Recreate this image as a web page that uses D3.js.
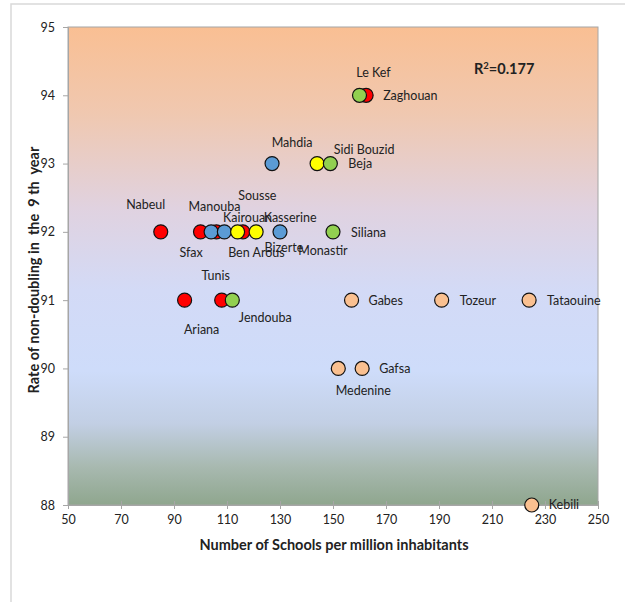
<!DOCTYPE html>
<html>
<head>
<meta charset="utf-8">
<script src="https://cdn.jsdelivr.net/npm/d3@7"></script>
<style>
  html, body { margin: 0; padding: 0; background: #ffffff; }
  svg { display: block; }
  text { font-family: Lato, "Open Sans", sans-serif; fill: #222; }
</style>
</head>
<body>
<div id="chart"></div>
<script>
// Governorates: schools per million inhabitants vs. rate of non-doubling in the 9th year
const governorates = [
  "Nabeul", "Manouba", "Ben Arous", "Bizerte", "Tunis", "Ariana", "Zaghouan",
  "Sfax", "Sousse", "Monastir", "Mahdia",
  "Kairouan", "Kasserine", "Sidi Bouzid",
  "Siliana", "Beja", "Le Kef", "Jendouba",
  "Gabes", "Tozeur", "Tataouine", "Gafsa", "Medenine", "Kebili"
];
const schools = [
  85, 100, 106, 116, 108, 94, 162.5,
  104, 109, 130, 127,
  114, 121, 144,
  150, 149, 160, 112,
  157, 191, 224, 161, 152, 225
];
const rates = [
  92, 92, 92, 92, 91, 91, 94,
  92, 92, 92, 93,
  92, 92, 93,
  92, 93, 94, 91,
  91, 91, 91, 90, 90, 88
];
// region group of each governorate (index into groupColors)
const groups = [
  0, 0, 0, 0, 0, 0, 0,
  1, 1, 1, 1,
  2, 2, 2,
  3, 3, 3, 3,
  4, 4, 4, 4, 4, 4
];
const groupColors = ["#ff0000", "#5b9bd5", "#ffff00", "#92d050", "#fac090"];

const xTicks = [50, 70, 90, 110, 130, 150, 170, 190, 210, 230, 250];
const yTicks = [88, 89, 90, 91, 92, 93, 94, 95];
const rSquared = "0.177";

// label placement relative to each marker: [dx, dy, anchor]
const labelPlacement = {
  "Nabeul": [-15, -27, "middle"], "Manouba": [14, -25, "middle"],
  "Sfax": [-20, 21, "middle"], "Sousse": [33, -36, "middle"],
  "Kairouan": [10, -14, "middle"], "Ben Arous": [40, 21, "middle"],
  "Bizerte": [41, 16, "middle"], "Kasserine": [34, -14, "middle"],
  "Monastir": [43, 19, "middle"], "Siliana": [18, 1, "start"],
  "Mahdia": [20, -21, "middle"], "Sidi Bouzid": [47, -14, "middle"],
  "Beja": [18, 0, "start"], "Le Kef": [14, -23, "middle"],
  "Zaghouan": [17, 0, "start"], "Tunis": [-6, -25, "middle"],
  "Ariana": [17, 29, "middle"], "Jendouba": [33, 17, "middle"],
  "Gabes": [17, 0, "start"], "Tozeur": [18, 0, "start"],
  "Tataouine": [18, 0, "start"], "Gafsa": [17, 0, "start"],
  "Medenine": [25, 22, "middle"], "Kebili": [17, 0, "start"]
};

const W = 625, H = 602;
const plot = { left: 68, right: 598, top: 27, bottom: 505 };

const svg = d3.select("#chart").append("svg")
  .attr("width", W).attr("height", H);

// outer chart frame
svg.append("path")
  .attr("d", `M11,${H} L11,4 L${W},4`)
  .attr("fill", "none").attr("stroke", "#d9d9d9").attr("stroke-width", 1.5);

const x = d3.scaleLinear().domain([50, 250]).range([plot.left, plot.right]);
const y = d3.scaleLinear().domain([88, 95]).range([plot.bottom, plot.top]);

// plot background gradient
const defs = svg.append("defs");
const grad = defs.append("linearGradient").attr("id", "bg")
  .attr("x1", 0).attr("y1", 0).attr("x2", 0).attr("y2", 1);
[
  [0.00, "#f9bf93"],
  [0.18, "#f0c8b0"],
  [0.38, "#e0d2e0"],
  [0.55, "#d3daf6"],
  [0.72, "#cedcfa"],
  [0.83, "#c2cfe4"],
  [0.92, "#a8b9b0"],
  [1.00, "#8fa68e"]
].forEach(([o, c]) => grad.append("stop").attr("offset", o).attr("stop-color", c));

svg.append("rect")
  .attr("x", plot.left).attr("y", plot.top)
  .attr("width", plot.right - plot.left).attr("height", plot.bottom - plot.top)
  .attr("fill", "url(#bg)")
  .attr("stroke", "#a6a6a6").attr("stroke-width", 1);

// axes
const xAxis = svg.append("g")
  .attr("transform", `translate(0,${plot.bottom})`)
  .call(d3.axisBottom(x).tickValues(xTicks).tickFormat(d3.format("d")).tickSize(4).tickPadding(6));
xAxis.selectAll(".tick line").attr("y1", -4).attr("y2", 4).attr("stroke", "#a6a6a6");
xAxis.select(".domain").attr("stroke", "#a6a6a6");
xAxis.selectAll("text").attr("font-size", 12.5).attr("font-family", "Lato, sans-serif").attr("fill", "#222");

const yAxis = svg.append("g")
  .attr("transform", `translate(${plot.left},0)`)
  .call(d3.axisLeft(y).tickValues(yTicks).tickFormat(d3.format("d")).tickSize(5).tickPadding(8));
yAxis.selectAll(".tick line").attr("stroke", "#a6a6a6");
yAxis.select(".domain").attr("stroke", "#a6a6a6");
yAxis.selectAll("text").attr("font-size", 12.5).attr("font-family", "Lato, sans-serif").attr("fill", "#222");

// axis titles
svg.append("text")
  .attr("x", 334).attr("y", 550)
  .attr("text-anchor", "middle").attr("font-weight", "bold").attr("font-size", 14.5)
  .text("Number of Schools per million inhabitants");

svg.append("text")
  .attr("transform", `translate(39,270) rotate(-90)`)
  .attr("text-anchor", "middle").attr("font-weight", "bold").attr("font-size", 14.5)
  .attr("xml:space", "preserve")
  .text("Rate of non-doubling in  the  9 th  year");

// R squared annotation
const r2 = svg.append("text")
  .attr("x", 474).attr("y", 74)
  .attr("font-weight", "bold").attr("font-size", 14.5);
r2.append("tspan").text("R");
r2.append("tspan").attr("baseline-shift", "super").attr("font-size", 9.5).text("2");
r2.append("tspan").text("=" + rSquared);

// points, drawn group by group
const idx = d3.range(governorates.length)
  .sort((a, b) => groups[a] - groups[b] || a - b);

svg.append("g").selectAll("circle")
  .data(idx).join("circle")
  .attr("cx", i => x(schools[i]))
  .attr("cy", i => y(rates[i]))
  .attr("r", 7)
  .attr("fill", i => groupColors[groups[i]])
  .attr("stroke", "#111").attr("stroke-width", 1.2);

// governorate labels
svg.append("g").selectAll("text")
  .data(d3.range(governorates.length)).join("text")
  .attr("x", i => x(schools[i]) + labelPlacement[governorates[i]][0])
  .attr("y", i => y(rates[i]) + labelPlacement[governorates[i]][1])
  .attr("dy", "0.35em")
  .attr("text-anchor", i => labelPlacement[governorates[i]][2])
  .attr("font-size", 12.5)
  .text(i => governorates[i]);
</script>
</body>
</html>
